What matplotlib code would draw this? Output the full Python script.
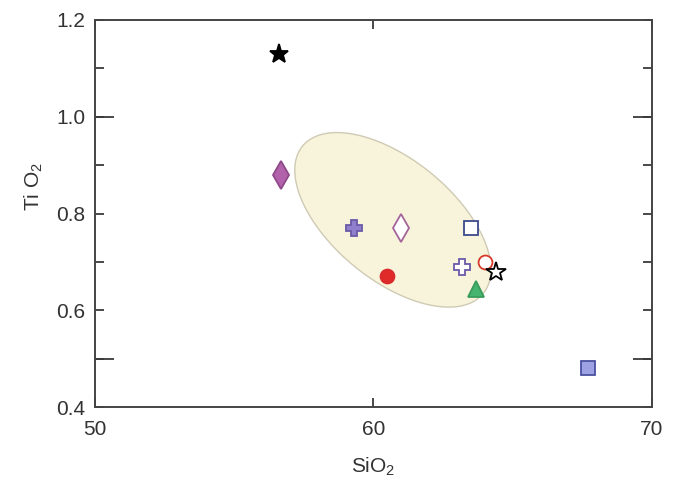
"""TiO2 vs SiO2 scatter with field ellipse."""
import matplotlib
matplotlib.use("Agg")
import matplotlib.pyplot as plt
import numpy as np

plt.rcParams["font.family"] = ["Liberation Sans", "DejaVu Sans"]
plt.rcParams["mathtext.fontset"] = "custom"
plt.rcParams["mathtext.rm"] = "Liberation Sans"
plt.rcParams["mathtext.it"] = "Liberation Sans"

# sample values (SiO2, TiO2)
sio2 = [56.6, 56.7, 59.3, 61.0, 63.5, 63.2, 64.0, 64.4, 63.7, 60.5, 67.7]
tio2 = [1.13, 0.88, 0.77, 0.77, 0.77, 0.69, 0.70, 0.68, 0.645, 0.67, 0.48]
markers = ["*", "d", "P", "d", "s", "P", "o", "*", "^", "o", "s"]
faces = ["black", "#b262aa", "#8f7fcc", "white", "white", "white",
         "white", "white", "#45b46e", "#e02a2a", "#9da3e2"]
edges = ["black", "#8e4a88", "#6a5aa8", "#a4649a", "#3c4a8c", "#6a5aa8",
         "#d83a2a", "black", "#3a9c5c", "#d82a2a", "#4a52a0"]
sizes = [14, 14, 12, 14, 10, 12, 10, 15, 11, 10, 10]

# field ellipse: centre and conjugate semi-axes in data units
ell_center = (60.7, 0.787)
ell_major = (3.25, -0.152)
ell_minor = (1.36, 0.097)

fig = plt.figure(figsize=(6.81, 4.87), dpi=100)
ax = fig.add_axes([0.1395, 0.164, 0.8175, 0.795])

t = np.linspace(0, 2 * np.pi, 300)
ex = ell_center[0] + ell_major[0] * np.cos(t) + ell_minor[0] * np.sin(t)
ey = ell_center[1] + ell_major[1] * np.cos(t) + ell_minor[1] * np.sin(t)
ax.fill(ex, ey, facecolor="#f8f4dc", edgecolor="#cfcab4", lw=1.0, zorder=1)

for x, y, m, fc, ec, s in zip(sio2, tio2, markers, faces, edges, sizes):
    ax.plot(x, y, marker=m, ms=s, mfc=fc, mec=ec, mew=1.3,
            ls="none", zorder=3)

ax.set_xlim(50, 70)
ax.set_ylim(0.4, 1.2)
ax.set_xticks([50, 60, 70])
ax.set_yticks(np.round(np.arange(0.4, 1.21, 0.1), 1))
ax.set_yticklabels(["0.4", "", "0.6", "", "0.8", "", "1.0", "", "1.2"])
ax.yaxis.remove_overlapping_locs = False
ax.set_yticks([0.5, 1.0], minor=True)
ax.tick_params(which="major", direction="in", length=6.5, width=1.3,
               labelsize=15, colors="#3a3a3a", labelcolor="#333333",
               right=True, top=True)
ax.tick_params(axis="y", which="major", pad=7)
ax.tick_params(axis="x", which="major", pad=9)
ax.tick_params(axis="y", which="minor", direction="in", length=14,
               width=1.3, colors="#3a3a3a", right=True)
for sp in ax.spines.values():
    sp.set_color("#444444")
    sp.set_linewidth(1.4)

ax.set_xlabel("SiO$_2$", fontsize=15, color="#333333", labelpad=12)
ax.set_ylabel("Ti O$_2$", fontsize=15, color="#333333")
ax.yaxis.set_label_coords(-0.09, 0.57)

fig.savefig("out.png", dpi=100)
